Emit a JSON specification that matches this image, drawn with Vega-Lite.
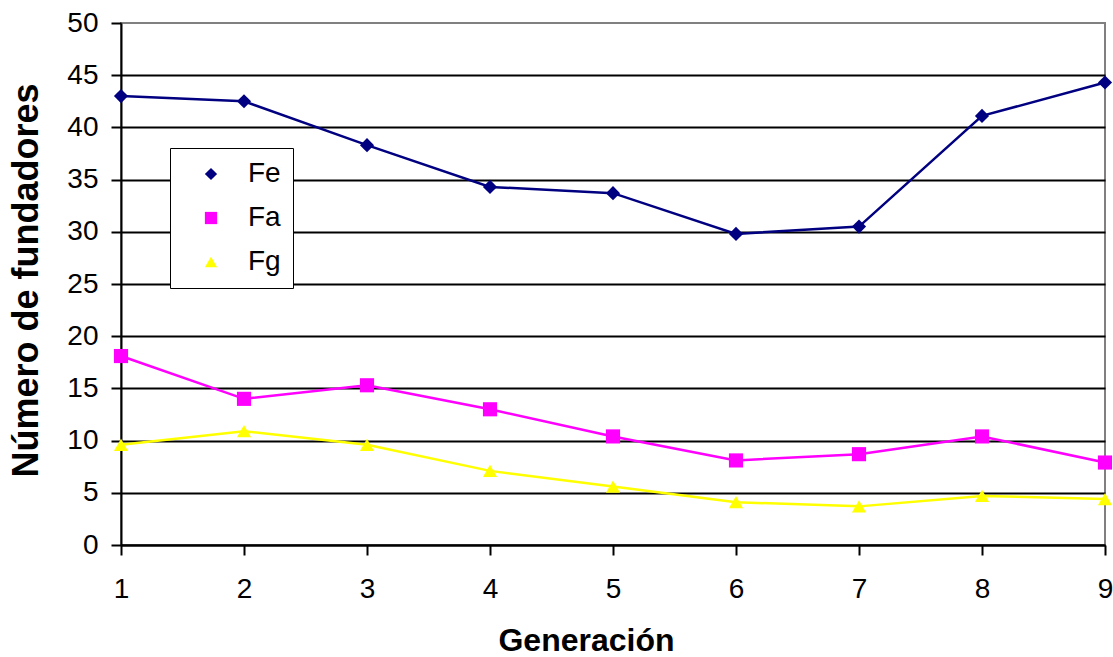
{
  "$schema": "https://vega.github.io/schema/vega-lite/v6.json",
  "width": 984,
  "height": 522,
  "autosize": {"type": "none"},
  "padding": {"left": 121, "top": 23, "right": 8, "bottom": 112},
  "background": "white",
  "config": {
    "view": {"stroke": "#808080", "strokeWidth": 2},
    "font": "Liberation Sans"
  },
  "data": {
    "values": [
      {"gen": 1, "series": "Fe", "value": 43.0},
      {"gen": 2, "series": "Fe", "value": 42.5},
      {"gen": 3, "series": "Fe", "value": 38.3},
      {"gen": 4, "series": "Fe", "value": 34.3},
      {"gen": 5, "series": "Fe", "value": 33.7},
      {"gen": 6, "series": "Fe", "value": 29.8},
      {"gen": 7, "series": "Fe", "value": 30.5},
      {"gen": 8, "series": "Fe", "value": 41.1},
      {"gen": 9, "series": "Fe", "value": 44.3},
      {"gen": 1, "series": "Fa", "value": 18.1},
      {"gen": 2, "series": "Fa", "value": 14.0},
      {"gen": 3, "series": "Fa", "value": 15.3},
      {"gen": 4, "series": "Fa", "value": 13.0},
      {"gen": 5, "series": "Fa", "value": 10.4},
      {"gen": 6, "series": "Fa", "value": 8.1},
      {"gen": 7, "series": "Fa", "value": 8.7},
      {"gen": 8, "series": "Fa", "value": 10.4},
      {"gen": 9, "series": "Fa", "value": 7.9},
      {"gen": 1, "series": "Fg", "value": 9.6},
      {"gen": 2, "series": "Fg", "value": 10.9},
      {"gen": 3, "series": "Fg", "value": 9.6},
      {"gen": 4, "series": "Fg", "value": 7.1},
      {"gen": 5, "series": "Fg", "value": 5.6},
      {"gen": 6, "series": "Fg", "value": 4.1},
      {"gen": 7, "series": "Fg", "value": 3.7},
      {"gen": 8, "series": "Fg", "value": 4.7},
      {"gen": 9, "series": "Fg", "value": 4.4}
    ]
  },
  "encoding": {
    "x": {
      "field": "gen",
      "type": "quantitative",
      "scale": {"domain": [1, 9], "nice": false, "zero": false},
      "axis": {
        "title": "Generación",
        "values": [1, 2, 3, 4, 5, 6, 7, 8, 9],
        "grid": false,
        "domainColor": "black",
        "domainWidth": 2,
        "tickColor": "black",
        "tickWidth": 2,
        "tickSize": 10,
        "labelFont": "Liberation Sans",
        "labelFontSize": 28,
        "labelColor": "black",
        "labelPadding": 20,
        "labelFlush": false,
        "titleFont": "Liberation Sans",
        "titleFontSize": 32,
        "titleFontWeight": "bold",
        "titleColor": "black",
        "titleX": 465,
        "titleY": 105,
        "titleBaseline": "alphabetic",
        "titleAlign": "center"
      }
    },
    "y": {
      "field": "value",
      "type": "quantitative",
      "scale": {"domain": [0, 50], "nice": false},
      "axis": {
        "title": "Número de fundadores",
        "values": [0, 5, 10, 15, 20, 25, 30, 35, 40, 45, 50],
        "grid": true,
        "gridColor": {"condition": {"test": "datum.value === 50", "value": "transparent"}, "value": "black"},
        "gridWidth": 2,
        "gridOpacity": 1,
        "domainColor": "black",
        "domainWidth": 2,
        "tickColor": "black",
        "tickWidth": 2,
        "tickSize": 10,
        "labelFont": "Liberation Sans",
        "labelFontSize": 28,
        "labelColor": "black",
        "labelPadding": 13,
        "labelFlush": false,
        "titleFont": "Liberation Sans",
        "titleFontSize": 36,
        "titleFontWeight": "bold",
        "titleColor": "black",
        "titleAngle": -90,
        "titleX": -95,
        "titleY": 257,
        "titleBaseline": "middle",
        "titleAlign": "center"
      }
    }
  },
  "layer": [
    {
      "transform": [{"calculate": "datum.series", "as": "serie"}],
      "mark": {"type": "line", "strokeWidth": 2.5},
      "encoding": {
        "stroke": {
          "field": "serie",
          "type": "nominal",
          "sort": ["Fe", "Fa", "Fg"],
          "scale": {"range": ["#000080", "#FF00FF", "#FFFF00"]},
          "legend": {
            "title": null,
            "orient": "none",
            "legendX": 49,
            "legendY": 125,
            "padding": 12,
            "rowPadding": 16,
            "clipHeight": 28,
            "strokeColor": "transparent",
            "fillColor": "transparent",
            "labelFont": "Liberation Sans",
            "labelFontSize": 28,
            "labelColor": "transparent",
            "symbolType": "stroke",
            "symbolSize": 3600,
            "symbolOffset": 0,
            "symbolStrokeWidth": 2.5,
            "symbolOpacity": 1
          }
        }
      }
    },
    {
      "mark": {"type": "point", "filled": true, "opacity": 1, "size": 200},
      "encoding": {
        "color": {
          "field": "series",
          "type": "nominal",
          "scale": {"domain": ["Fe", "Fa", "Fg"], "range": ["#000080", "#FF00FF", "#FFFF00"]},
          "legend": {
            "title": null,
            "orient": "none",
            "legendX": 49,
            "legendY": 125,
            "padding": 12,
            "rowPadding": 16,
            "strokeColor": "black",
            "fillColor": "white",
            "labelFont": "Liberation Sans",
            "labelFontSize": 28,
            "labelColor": "black",
            "symbolSize": 150,
            "symbolOffset": 15,
            "labelOffset": 23,
            "symbolOpacity": 1
          }
        },
        "shape": {
          "field": "series",
          "type": "nominal",
          "scale": {"domain": ["Fe", "Fa", "Fg"], "range": ["diamond", "square", "triangle-up"]},
          "legend": {
            "title": null,
            "orient": "none",
            "legendX": 49,
            "legendY": 125,
            "padding": 12,
            "rowPadding": 16,
            "strokeColor": "black",
            "fillColor": "white",
            "labelFont": "Liberation Sans",
            "labelFontSize": 28,
            "labelColor": "black",
            "symbolSize": 150,
            "symbolOffset": 15,
            "labelOffset": 23,
            "symbolOpacity": 1
          }
        }
      }
    }
  ]
}
